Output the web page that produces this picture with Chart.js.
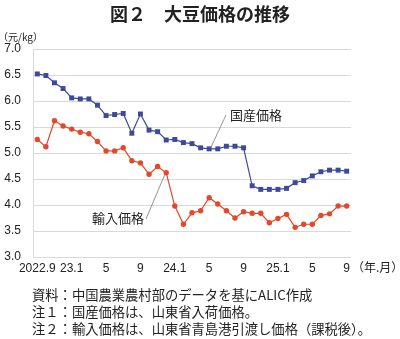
<!DOCTYPE html>
<html><head><meta charset="utf-8">
<script src="https://cdn.jsdelivr.net/npm/chart.js@4"></script>
<style>
html,body{margin:0;padding:0;background:#fff;}
canvas{display:block;}
</style></head><body>
<canvas id="c" width="400" height="339"></canvas>
<script>
const categories = ['2022.9','2022.10','2022.11','2022.12','2023.1','2023.2','2023.3','2023.4','2023.5','2023.6','2023.7','2023.8','2023.9','2023.10','2023.11','2023.12','2024.1','2024.2','2024.3','2024.4','2024.5','2024.6','2024.7','2024.8','2024.9','2024.10','2024.11','2024.12','2025.1','2025.2','2025.3','2025.4','2025.5','2025.6','2025.7','2025.8','2025.9'];
const xTickLabels = ['2022.9','23.1','5','9','24.1','5','9','25.1','5','9'];
const domestic = [6.52,6.49,6.35,6.24,6.06,6.04,6.04,5.92,5.72,5.74,5.76,5.38,5.75,5.44,5.41,5.25,5.26,5.20,5.18,5.10,5.08,5.08,5.13,5.13,5.10,4.37,4.30,4.30,4.30,4.32,4.43,4.47,4.56,4.64,4.67,4.67,4.65];
const imported = [5.26,5.12,5.62,5.52,5.46,5.40,5.37,5.22,5.04,5.04,5.10,4.85,4.81,4.59,4.74,4.62,3.98,3.63,3.85,3.89,4.14,4.02,3.89,3.75,3.87,3.84,3.84,3.66,3.74,3.82,3.57,3.63,3.63,3.80,3.83,3.98,3.98];
const yTicks = [3.0,3.5,4.0,4.5,5.0,5.5,6.0,6.5,7.0];

const BLUE = '#3d4a9c', RED = '#e4472a';
const JP = '"Noto Sans CJK JP", sans-serif';
const NUM = '"Liberation Sans", "Noto Sans CJK JP", sans-serif';

const textPlugin = {
  id: 'texts',
  afterDraw(chart) {
    const ctx = chart.ctx;
    ctx.save();
    ctx.fillStyle = '#222';
    ctx.textBaseline = 'middle';
    // title
    ctx.font = 'bold 18px ' + JP;
    ctx.textAlign = 'center';
    ctx.fillText('図２　大豆価格の推移', 200, 14);
    // axis titles
    ctx.font = '10px ' + JP;
    ctx.textAlign = 'left';
    ctx.fillText('（元/kg）', -2, 37);
    ctx.font = '12px ' + JP;
    ctx.fillText('（年.月）', 352, 267);
    // series labels with leader lines
    const m0 = chart.getDatasetMeta(0).data, m1 = chart.getDatasetMeta(1).data;
    ctx.strokeStyle = '#777';
    ctx.lineWidth = 0.8;
    ctx.beginPath();
    ctx.moveTo(226, 115);
    ctx.lineTo(m0[20].x + 1.5, m0[20].y - 1);
    ctx.moveTo(146, 219);
    ctx.lineTo(m1[15].x - 1.5, m1[15].y + 2);
    ctx.stroke();
    ctx.font = '13px ' + JP;
    ctx.fillText('国産価格', 230, 115);
    ctx.fillText('輸入価格', 92, 218);
    // footnotes
    ctx.font = '13.3px ' + JP;
    ctx.fillText('資料：中国農業農村部のデータを基にALIC作成', 32, 295);
    ctx.fillText('注１：国産価格は、山東省入荷価格。', 32, 312);
    ctx.fillText('注２：輸入価格は、山東省青島港引渡し価格（課税後）。', 32, 329);
    ctx.restore();
  }
};

new Chart(document.getElementById('c'), {
  type: 'line',
  data: {
    labels: categories,
    datasets: [
      { label: '国産価格', data: domestic, borderColor: BLUE, backgroundColor: BLUE,
        borderWidth: 1.2, pointStyle: 'rect', pointRadius: 3.5, pointBorderWidth: 0, tension: 0 },
      { label: '輸入価格', data: imported, borderColor: RED, backgroundColor: RED,
        borderWidth: 1.2, pointStyle: 'circle', pointRadius: 2.7, pointBorderWidth: 0, tension: 0 }
    ]
  },
  options: {
    responsive: false,
    animation: false,
    events: [],
    layout: { padding: { left: 0, top: 49, right: 49, bottom: 0 } },
    plugins: { legend: { display: false }, tooltip: { enabled: false }, title: { display: false } },
    scales: {
      x: {
        type: 'category',
        offset: true,
        grid: { display: false, drawTicks: false },
        border: { display: false },
        ticks: {
          autoSkip: false, maxRotation: 0, minRotation: 0, padding: 4,
          color: '#222', font: { family: NUM, size: 12 },
          callback: (v, i) => (i % 4 === 0 ? xTickLabels[i / 4] : '')
        },
        afterFit: s => { s.height = 82; }
      },
      y: {
        min: 3, max: 7,
        afterBuildTicks: s => { s.ticks = yTicks.map(v => ({ value: v })); },
        grid: { color: '#d9d9d9', lineWidth: 1, drawTicks: false },
        border: { display: true, color: '#d9d9d9', width: 1 },
        ticks: { padding: 12, color: '#222', font: { family: NUM, size: 12 },
          callback: v => Number(v).toFixed(1) },
        afterFit: s => { s.width = 33; }
      }
    }
  },
  plugins: [textPlugin]
});
</script>
</body></html>
